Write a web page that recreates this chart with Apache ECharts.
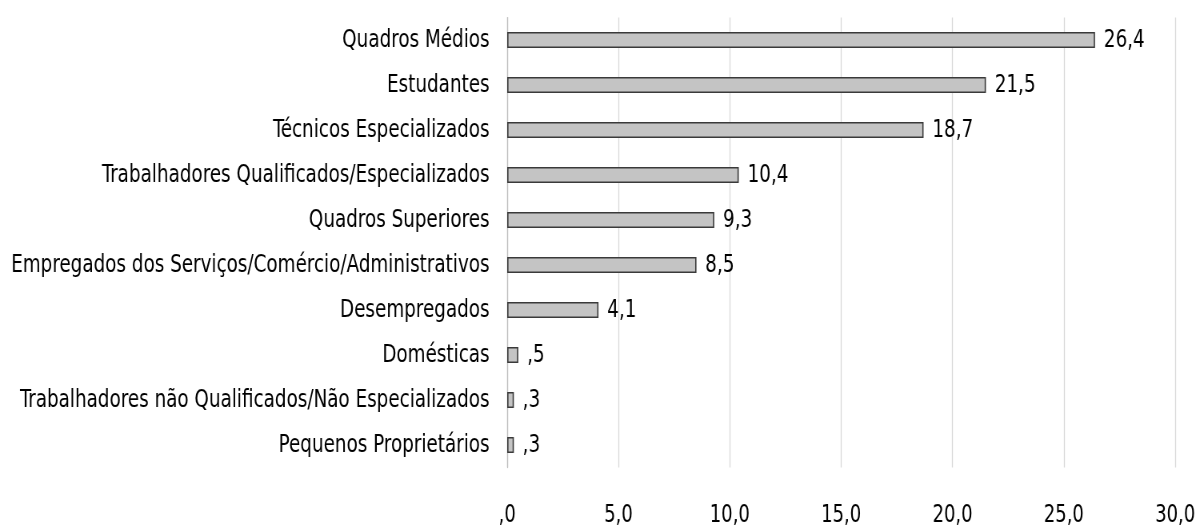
<!DOCTYPE html>
<html>
<head>
<meta charset="utf-8">
<script src="https://cdn.jsdelivr.net/npm/echarts@6/dist/echarts.min.js"></script>
<style>
html,body{margin:0;padding:0;background:#fff;overflow:hidden;width:1196px;height:527px;}
#c{width:1495px;height:527px;transform:scaleX(0.8);transform-origin:0 0;}
</style>
</head>
<body>
<div id="c"></div>
<script>
const categories = [
  "Quadros Médios",
  "Estudantes",
  "Técnicos Especializados",
  "Trabalhadores Qualificados/Especializados",
  "Quadros Superiores",
  "Empregados dos Serviços/Comércio/Administrativos",
  "Desempregados",
  "Domésticas",
  "Trabalhadores não Qualificados/Não Especializados",
  "Pequenos Proprietários"
];
const values = [26.4, 21.5, 18.7, 10.4, 9.3, 8.5, 4.1, 0.5, 0.3, 0.3];
const xTicks = [0, 5, 10, 15, 20, 25, 30];

const FONT = '"DejaVu Sans Condensed", "DejaVu Sans", sans-serif';
function fmt(v) {
  return v.toFixed(1).replace('.', ',').replace(/^0/, '');
}

const chart = echarts.init(document.getElementById('c'), null, {renderer: 'canvas'});
chart.setOption({
  animation: false,
  backgroundColor: '#ffffff',
  grid: {left: 634, right: 26, top: 17.5, bottom: 59.5, containLabel: false, outerBoundsMode: 'none'},
  xAxis: {
    type: 'value',
    min: xTicks[0],
    max: xTicks[xTicks.length - 1],
    interval: 5,
    axisLine: {show: false},
    axisTick: {show: false},
    splitLine: {show: true, lineStyle: {color: '#d9d9d9', width: 1.25}},
    axisLabel: {
      margin: 35,
      color: '#000',
      fontFamily: FONT,
      fontSize: 25,
      formatter: fmt
    }
  },
  yAxis: {
    type: 'category',
    inverse: true,
    data: categories,
    axisLine: {show: true, lineStyle: {color: '#bfbfbf', width: 1.25}},
    axisTick: {show: false},
    axisLabel: {
      margin: 22,
      color: '#000',
      fontFamily: FONT,
      fontSize: 25.5
    }
  },
  series: [{
    type: 'bar',
    data: values,
    barWidth: 16,
    itemStyle: {
      color: '#c4c4c4',
      borderColor: '#3a3a3a',
      borderWidth: 1.6
    },
    label: {
      show: true,
      position: 'right',
      distance: 11,
      color: '#000',
      fontFamily: FONT,
      fontSize: 25.5,
      formatter: p => fmt(p.value)
    }
  }]
});
</script>
</body>
</html>
